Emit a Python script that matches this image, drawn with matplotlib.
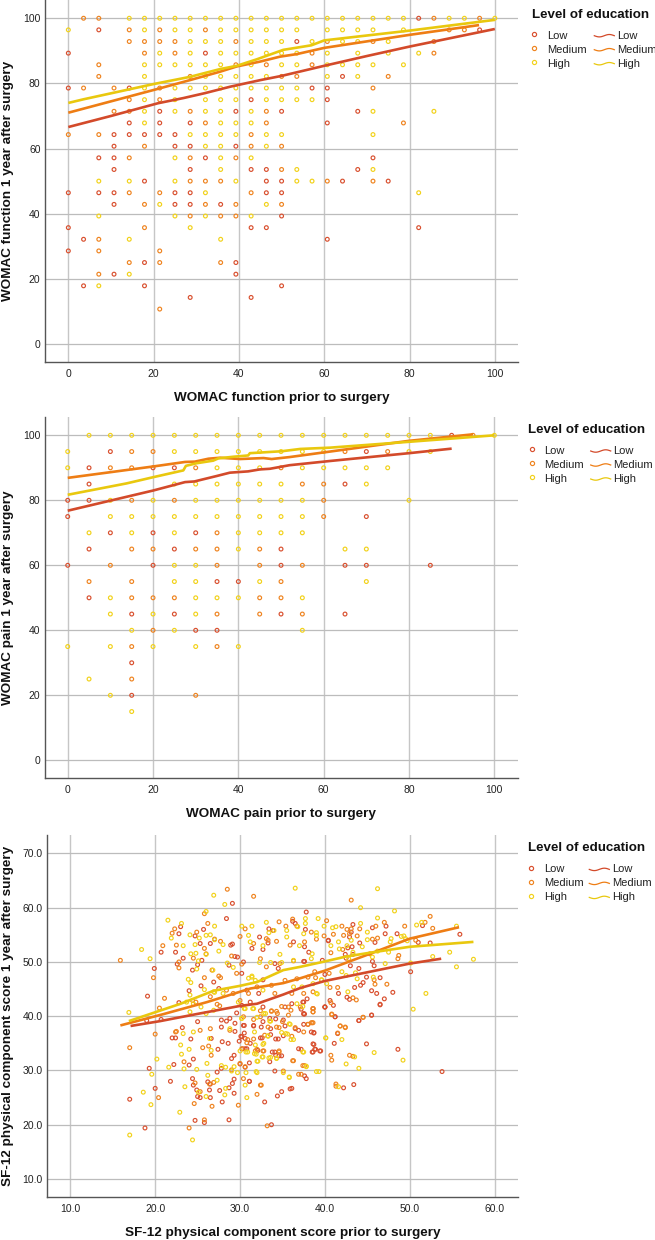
import matplotlib
matplotlib.use("Agg")
import matplotlib.pyplot as plt
from matplotlib.lines import Line2D
import numpy as np

plt.rcParams["font.family"] = ["Liberation Sans", "DejaVu Sans"]

FIG_W = 655
FIG_H = 1240

levels = ["Low", "Medium", "High"]
marker_colors = ["#d9502f", "#ef8420", "#f2d21b"]
line_colors = ["#d34a2a", "#ee7d14", "#e9c80e"]

# WOMAC function is scored in steps of 100/28. Rows are (y step, [x steps]).
func_low = [
    (28, [23]), (27, [2, 27]), (26, [15]), (25, [0, 9]), (23, [18]),
    (22, [0, 4, 16, 17]), (21, [12, 17]), (20, [6, 11, 14, 19]),
    (19, [4, 6, 8, 17]), (18, [3, 4, 5, 6, 7]), (17, [3, 7, 8, 11]),
    (16, [2, 3, 9, 20]), (15, [3, 8, 12, 13, 19]), (14, [5, 13, 14, 18, 21]),
    (13, [0, 2, 3, 7, 8, 13, 14]), (12, [3, 7, 8, 10]), (11, [14]),
    (10, [0, 12, 13, 23]), (9, [1, 17]), (8, [0]), (7, [5, 11]), (6, [3, 11]),
    (5, [1, 5, 14]), (4, [8, 12]),
]
func_medium = [
    (28, [1, 2, 24, 27]), (27, [4, 6, 9, 25, 26]), (26, [4, 5, 6, 7, 11, 17, 20, 24]),
    (25, [5, 7, 16, 24]), (24, [2, 11, 13, 16]), (23, [2, 8, 14, 15, 21]),
    (22, [1, 3, 6, 20]), (21, [4, 6]), (20, [3, 4, 8, 13]), (19, [9, 13, 22]),
    (18, [0, 2, 12]), (17, [5, 12, 14]), (16, [4, 8, 11]), (15, [14]),
    (14, [8, 9, 10, 17, 20]), (13, [4, 6, 12]), (12, [5, 9, 11, 14]), (11, [8, 10, 11]),
    (10, [5]), (9, [2]), (8, [2, 6]), (7, [4, 6, 10]), (6, [2]), (3, [6]),
]
func_high = [
    (28, [4, 5, 6, 7, 8, 9, 10, 11, 12, 13, 14, 15, 16, 17, 18, 19, 20, 21, 22, 25, 26, 28]),
    (27, [0, 5, 7, 8, 10, 11, 12, 13, 14, 15, 17, 18, 19, 20, 22]),
    (26, [8, 9, 10, 12, 13, 14, 16, 18, 19, 21]),
    (25, [6, 8, 10, 11, 12, 13, 14, 15, 17, 19, 21, 23]),
    (24, [5, 6, 7, 8, 9, 10, 12, 14, 15, 17, 18, 19, 20, 22]),
    (23, [5, 9, 10, 11, 12, 13, 17, 19]),
    (22, [5, 7, 8, 9, 10, 11, 12, 13, 14, 15]),
    (21, [5, 7, 9, 10, 11, 13, 14, 15, 16]),
    (20, [5, 7, 9, 10, 12, 20, 24]), (19, [5, 10, 11, 12]),
    (18, [8, 9, 10, 11, 13, 14, 20]), (17, [9, 10, 13]), (16, [7, 10, 12]),
    (15, [10, 15, 20]), (14, [2, 4, 7, 11, 15, 16]), (13, [9, 23]), (12, [6, 13]),
    (11, [2, 7, 9, 12]), (10, [8]), (9, [4, 10]), (6, [4]), (5, [2]),
]

# WOMAC pain is scored in steps of 5. Rows are (y score, [x steps]).
pain_low = [
    (100, [18]), (95, [2, 14]), (90, [1, 4, 5]), (85, [1, 13]), (80, [0, 1]),
    (75, [0, 14]), (70, [2, 4, 6]), (65, [1, 5, 10]), (60, [0, 4, 10, 13, 14, 17]),
    (55, [7, 8]), (50, [1]), (45, [3, 5, 10, 13]), (40, [6, 7]), (30, [3]), (20, [3]),
]
pain_medium = [
    (100, [19]), (95, [3, 4, 13, 15]), (90, [2, 3, 6, 10]), (85, [11, 12]),
    (80, [3, 5, 12]), (75, [12]), (70, [7]), (65, [3, 4, 6, 7, 9]), (60, [2, 7, 9, 11]),
    (55, [1, 3, 10]), (50, [3, 4, 5, 9, 10]), (45, [7, 9, 11]), (40, [4]), (35, [3, 7]),
    (25, [3]), (20, [6]),
]
pain_high = [
    (100, [1, 2, 3, 4, 5, 6, 7, 8, 9, 10, 11, 12, 13, 14, 15, 16, 17, 20]),
    (95, [0, 5, 6, 7, 8, 9, 10, 11, 12, 16, 17]),
    (90, [0, 7, 8, 9, 11, 12, 13, 14, 15]), (85, [5, 6, 7, 8, 9, 10, 14]),
    (80, [2, 4, 6, 7, 8, 9, 10, 11, 16]), (75, [2, 3, 4, 5, 6, 7, 8, 9, 10, 11]),
    (70, [1, 3, 5, 8, 9, 10, 11]), (65, [8, 13, 14]), (60, [5, 6]), (55, [5, 6, 9, 14]),
    (50, [2, 6, 7, 8, 11]), (45, [2, 4, 6]), (40, [3, 5, 11]), (35, [0, 2, 4, 6, 8]),
    (25, [1]), (20, [2]), (15, [3]),
]

sf_low = [
    (19.9, 48.8), (19.1, 43.7), (20.7, 51.8), (22.4, 51.8), (22.8, 55.2), (23.0, 56.5), (22.6, 49.6),
    (23.3, 50.7), (22.8, 42.5), (20.7, 39.4), (19.0, 39.2), (23.2, 37.9), (29.1, 60.8), (28.4, 58.0),
    (25.7, 56.0), (24.7, 54.8), (25.3, 53.4), (26.5, 53.4), (27.0, 54.2), (25.5, 50.3), (25.0, 49.5),
    (24.0, 44.7), (25.4, 45.6), (26.9, 46.3), (24.4, 48.5), (27.5, 45.1), (28.9, 53.1), (29.1, 53.3),
    (29.4, 51.0), (29.7, 50.9), (28.7, 49.4), (30.4, 50.0), (30.2, 47.9), (31.4, 52.5), (32.7, 52.3),
    (33.4, 56.1), (33.9, 55.8), (32.3, 54.6), (33.3, 53.5), (36.3, 53.7), (36.2, 57.5), (36.5, 57.1),
    (37.7, 56.0), (40.4, 54.0), (37.6, 50.1), (34.1, 49.7), (34.5, 48.8), (32.7, 46.7), (32.2, 44.2),
    (30.8, 44.8), (30.2, 42.0), (29.6, 40.6), (32.7, 41.7), (36.1, 42.3), (37.4, 42.6), (37.6, 40.4),
    (38.6, 41.4), (40.0, 41.7), (35.3, 41.7), (31.2, 42.6), (25.0, 39.0), (27.8, 39.3), (28.4, 39.1),
    (28.8, 39.6), (29.4, 38.7), (30.4, 38.3), (31.6, 38.3), (35.1, 39.3), (33.5, 39.6), (32.5, 38.0),
    (27.8, 38.0), (29.4, 37.2), (38.4, 37.1),
    (37.8, 59.2), (47.2, 56.6), (47.1, 55.2), (48.5, 55.2), (51.5, 56.7), (55.9, 55.1), (51.0, 53.6),
    (52.4, 53.5), (45.6, 56.3), (43.3, 56.9), (43.1, 55.5), (42.9, 54.6), (40.4, 53.9), (42.7, 52.6),
    (43.2, 52.8), (44.1, 53.5), (45.9, 53.6), (43.3, 51.4), (42.4, 51.4), (42.5, 50.7), (37.6, 52.8),
    (38.1, 51.8), (37.5, 50.1), (39.7, 50.3), (43.0, 49.3), (45.6, 50.1), (45.8, 49.3), (50.1, 48.2),
    (44.0, 48.8), (40.0, 47.7), (44.9, 47.2), (46.5, 47.1), (44.5, 46.2), (44.2, 45.7), (43.5, 45.3),
    (41.6, 44.2), (45.5, 44.7), (46.1, 44.2), (48.0, 44.4), (42.6, 43.5), (42.9, 43.1), (47.0, 43.2),
    (40.6, 42.9), (46.5, 42.2), (40.0, 41.7), (37.5, 40.5), (41.2, 39.9), (45.5, 40.2), (44.0, 39.2),
    (38.7, 37.0), (37.5, 38.5), (37.5, 42.6), (37.9, 43.2),
    (17.0, 24.7), (18.8, 19.4), (19.3, 30.4), (20.0, 26.7), (21.8, 28.0), (22.2, 31.1), (22.0, 36.0),
    (22.4, 36.0), (24.2, 35.8), (24.0, 31.0), (24.5, 32.1), (24.4, 28.5), (24.5, 27.3), (24.9, 26.4),
    (25.0, 25.2), (25.3, 25.0), (24.7, 20.8), (25.8, 20.4), (26.4, 26.4), (26.5, 25.0), (27.9, 24.2),
    (27.6, 26.3), (28.7, 20.9), (28.7, 26.8), (29.3, 25.8), (29.1, 27.6), (29.3, 28.4), (32.9, 24.2),
    (33.7, 20.0), (34.4, 25.3), (34.9, 26.1), (35.9, 26.6), (36.1, 26.7), (34.1, 29.9), (33.5, 31.6),
    (31.1, 31.4), (30.0, 31.2), (30.6, 30.6), (29.0, 32.2), (29.3, 32.8), (27.3, 29.7), (27.8, 30.4),
    (26.2, 27.9), (26.5, 27.5), (27.4, 33.9), (26.6, 35.9), (27.9, 35.3), (28.6, 35.0), (29.9, 35.4),
    (30.6, 34.0), (30.8, 34.0), (31.2, 35.0), (32.1, 33.7), (31.1, 28.0), (34.1, 33.4), (34.2, 32.8),
    (34.9, 32.7), (34.5, 35.8), (32.6, 36.0), (30.2, 36.2), (38.7, 34.8), (38.6, 33.4), (38.9, 33.9),
    (39.5, 33.6), (37.2, 33.9), (37.6, 29.0), (37.8, 28.5), (30.6, 35.9),
    (53.8, 29.8), (48.6, 33.9), (44.9, 34.9), (45.5, 40.2), (46.5, 42.1), (44.0, 39.2), (43.4, 27.4),
    (42.2, 26.8), (41.1, 35.0), (41.5, 36.8), (41.2, 39.9), (40.0, 41.7), (41.0, 42.0), (38.7, 36.9),
    (38.6, 34.9), (38.8, 33.9), (39.4, 33.6), (38.5, 33.4), (36.9, 34.0), (36.9, 37.4), (36.5, 37.7),
    (38.0, 38.5), (37.5, 40.4), (37.2, 41.3), (35.3, 38.2), (35.1, 36.4), (34.2, 35.8), (34.2, 39.5),
    (33.6, 37.7), (33.6, 36.6), (32.4, 36.0), (32.7, 39.0), (31.6, 38.2), (30.5, 38.3), (30.5, 36.9),
    (30.1, 36.3), (30.3, 34.0), (33.8, 33.4), (34.6, 32.7), (31.1, 28.0),
]
sf_medium = [
    (15.9, 50.3), (19.8, 47.1), (21.1, 43.3), (20.5, 41.5), (20.9, 53.0), (22.3, 56.1), (22.0, 55.3),
    (22.5, 53.1), (31.6, 62.1), (28.5, 63.4), (25.8, 58.9), (26.2, 57.1), (24.9, 55.5), (25.8, 52.5),
    (26.0, 51.5), (24.5, 50.7), (22.8, 50.0), (22.8, 48.9), (25.8, 47.1), (26.7, 48.5), (27.5, 47.4),
    (27.7, 47.1), (24.4, 42.9), (26.5, 43.6), (24.8, 42.6), (27.3, 42.2), (27.6, 41.9), (28.4, 44.8),
    (29.6, 47.9), (30.2, 49.6), (29.0, 51.1), (27.7, 53.8), (30.6, 56.1), (30.0, 54.7), (33.1, 54.3),
    (34.6, 57.4), (35.4, 56.6), (36.2, 57.9), (36.7, 56.6), (38.4, 55.5), (39.0, 54.2), (37.6, 53.7),
    (35.9, 53.1), (34.3, 53.8), (33.3, 54.0), (31.6, 53.4), (32.4, 50.6), (34.7, 49.7), (36.3, 50.2),
    (33.1, 49.1), (36.7, 46.9), (38.0, 47.2), (35.3, 46.6), (33.7, 45.7), (32.0, 45.4), (31.0, 44.2),
    (29.2, 44.2), (30.0, 42.9), (34.1, 44.2), (36.1, 44.2), (37.1, 41.7), (34.3, 40.9), (33.7, 40.9),
    (32.4, 39.9), (30.4, 39.9), (20.0, 36.7), (22.4, 37.1), (22.5, 37.2), (25.3, 37.4), (26.5, 37.7),
    (28.8, 37.4), (33.3, 38.0), (34.3, 38.0), (36.5, 37.9), (38.0, 38.5), (38.6, 38.8),
    (43.1, 61.4), (51.8, 57.3), (52.4, 58.4), (52.7, 56.2), (49.4, 56.6), (47.0, 57.3), (46.0, 56.6),
    (46.2, 54.4), (40.2, 57.6), (42.0, 56.6), (42.6, 56.0), (43.1, 56.1), (44.1, 56.1), (39.9, 54.8),
    (42.2, 54.9), (42.9, 55.2), (43.8, 54.8), (45.6, 54.2), (41.0, 55.1), (48.7, 51.2), (48.6, 50.6),
    (50.7, 54.0), (42.1, 52.3), (40.7, 51.7), (45.3, 51.5), (38.8, 48.2), (40.5, 47.9), (38.9, 47.1),
    (45.8, 46.7), (45.9, 45.9), (47.3, 45.9), (40.6, 45.3), (41.5, 45.3), (43.7, 43.0), (43.3, 43.4),
    (37.5, 44.2), (38.6, 44.5), (40.7, 42.5), (38.6, 41.4), (38.6, 40.8), (40.8, 40.4), (44.5, 39.8),
    (41.8, 38.2), (42.4, 38.0), (41.5, 36.9), (38.4, 38.8),
    (17.0, 34.2), (20.4, 25.0), (23.4, 31.6), (24.7, 27.7), (25.3, 26.1), (24.6, 23.9), (24.0, 19.4),
    (26.7, 23.4), (26.4, 27.5), (26.9, 27.8), (25.8, 20.9), (25.6, 34.2), (26.3, 34.5), (26.6, 32.8),
    (29.8, 23.6), (30.4, 28.5), (32.0, 25.6), (32.5, 27.3), (33.2, 19.8), (32.7, 33.6), (32.0, 33.9),
    (34.6, 33.4), (35.1, 29.9), (36.3, 31.8), (37.2, 29.3), (37.6, 30.9), (29.0, 30.1), (30.2, 34.0),
    (41.3, 27.5), (41.3, 27.1), (42.9, 32.8), (43.3, 32.6), (40.8, 31.9), (40.7, 32.8), (41.8, 38.2),
    (42.4, 37.9), (40.8, 40.3), (44.5, 39.8), (38.5, 38.8), (37.5, 37.1), (36.2, 31.8), (37.4, 30.9),
    (36.9, 29.3), (32.4, 27.3), (34.6, 33.6), (38.6, 40.8), (38.6, 41.4), (35.7, 40.2), (34.9, 41.8),
    (35.7, 41.7), (36.0, 41.1), (34.4, 40.5), (33.7, 41.0), (32.4, 41.0), (31.6, 39.4), (34.6, 37.9),
    (35.0, 39.0), (32.9, 36.5), (31.6, 35.8), (30.9, 35.7), (30.8, 35.1), (32.8, 33.6), (31.8, 33.6),
    (30.6, 30.7), (30.0, 31.3), (36.1, 36.3),
]
sf_high = [
    (18.4, 52.3), (19.4, 50.6), (16.9, 40.7), (21.5, 57.7), (23.1, 57.1), (21.9, 54.4), (26.9, 62.3),
    (26.0, 59.3), (28.2, 60.6), (36.5, 63.6), (37.7, 57.1), (23.3, 53.0), (24.1, 55.0), (24.7, 53.2),
    (24.8, 51.6), (24.2, 51.5), (25.2, 54.4), (26.0, 54.9), (26.5, 55.0), (27.0, 56.6), (27.0, 54.1),
    (26.0, 51.4), (25.1, 50.2), (24.9, 48.7), (23.9, 46.8), (24.2, 46.2), (25.8, 44.9), (27.0, 44.4),
    (26.8, 48.5), (27.5, 52.0), (28.0, 53.2), (28.5, 49.8), (29.2, 49.0), (30.2, 56.6), (31.0, 54.9),
    (31.2, 53.7), (31.4, 56.6), (32.7, 53.0), (33.1, 57.3), (33.4, 55.4), (34.0, 55.8), (35.5, 55.8),
    (35.5, 54.6), (36.8, 56.5), (37.5, 55.2), (37.0, 53.0), (36.3, 50.3), (34.9, 49.9), (33.6, 49.9),
    (32.3, 49.9), (31.4, 47.4), (31.0, 47.0), (34.7, 51.4),
    (24.1, 43.9), (23.7, 42.6), (24.5, 42.3), (24.1, 40.8), (25.4, 41.7), (26.0, 40.5), (26.9, 41.1),
    (26.9, 44.5), (28.0, 44.2), (29.8, 42.6), (30.2, 39.6), (30.6, 41.4), (31.6, 41.4), (32.7, 44.8),
    (31.8, 46.6), (31.4, 47.2), (32.8, 40.5), (33.5, 39.1), (35.8, 38.6), (36.7, 42.3), (39.0, 44.2),
    (38.6, 46.0), (39.6, 46.7), (23.3, 36.8), (24.5, 37.1), (28.8, 37.7), (35.4, 36.8), (37.3, 45.4),
    (36.3, 45.4),
    (46.2, 63.5), (44.2, 60.0), (48.2, 59.4), (46.2, 58.1), (39.2, 58.0), (37.7, 58.0), (44.2, 57.1),
    (50.8, 56.8), (51.4, 57.3), (55.5, 56.6), (39.9, 56.6), (40.9, 56.3), (41.3, 56.5), (45.0, 55.5),
    (39.0, 55.4), (39.0, 54.9), (45.0, 54.1), (43.1, 54.0), (41.6, 53.7), (40.7, 53.0), (47.8, 54.3),
    (47.7, 53.7), (49.0, 54.7), (49.3, 54.8), (49.5, 54.3), (49.7, 53.9), (42.6, 53.0), (44.4, 52.8),
    (41.7, 52.4), (43.3, 51.8), (46.2, 52.0), (47.5, 51.8), (38.5, 51.5), (38.4, 50.6), (42.8, 50.6),
    (45.6, 50.9), (52.7, 51.0), (54.7, 51.8), (57.5, 50.5), (55.5, 49.1), (47.1, 49.7), (50.1, 49.8),
    (42.0, 48.2), (42.5, 47.5), (43.6, 48.0), (45.7, 47.2), (43.8, 46.9), (39.6, 46.7), (39.1, 44.1),
    (51.9, 44.2), (42.7, 44.5), (50.4, 41.3), (40.2, 46.0),
    (17.0, 18.1), (18.6, 26.0), (19.5, 23.7), (19.6, 29.3), (20.2, 32.1), (21.6, 30.6), (22.9, 22.3),
    (23.5, 27.0), (23.4, 30.3), (23.1, 33.0), (23.0, 34.7), (24.0, 33.9), (24.9, 30.2), (24.4, 17.2),
    (25.1, 26.0), (26.0, 25.2), (26.2, 29.1), (26.1, 31.3), (27.3, 28.2), (28.2, 25.5), (28.3, 26.7),
    (27.8, 30.9), (28.3, 30.6), (29.0, 29.9), (29.3, 30.7), (29.7, 29.6), (30.7, 29.6), (30.6, 27.3),
    (30.8, 25.0), (32.0, 29.6), (32.1, 31.7), (32.7, 32.5), (31.9, 33.0), (30.9, 33.4), (30.0, 33.6),
    (26.6, 33.7), (26.4, 35.9), (33.4, 32.3), (34.3, 32.2), (35.1, 29.6), (35.8, 28.7), (37.8, 30.8),
    (37.4, 33.4), (39.3, 29.8), (40.1, 36.0), (36.3, 35.7), (31.8, 34.7), (32.7, 34.8), (33.3, 36.3),
    (45.8, 33.3), (49.2, 31.9), (44.0, 30.4), (43.5, 32.5), (42.5, 31.2), (42.0, 35.7), (40.1, 36.0),
    (41.6, 27.0), (39.0, 29.8), (37.8, 30.7), (37.5, 33.4), (35.8, 28.8), (34.3, 32.3), (33.6, 32.4),
    (32.6, 32.5), (32.0, 31.7), (31.9, 29.8), (30.7, 33.4), (31.7, 33.1), (32.8, 35.0), (36.0, 35.7),
    (35.6, 36.7), (34.9, 37.0), (33.3, 36.4), (31.7, 37.1), (32.0, 39.8), (33.6, 39.1), (35.9, 38.5),
    (33.0, 40.5), (31.5, 41.4), (30.5, 41.4), (30.2, 39.6), (37.4, 41.8),
]

# fit lines
func_fit_low_x = [0, 10, 21, 27, 32, 38, 45, 50, 60, 70, 80, 90, 100]
func_fit_low_y = [66.6, 70, 73.9, 75.5, 77, 79, 81, 82.3, 85.4, 88.4, 91.3, 94, 96.7]
func_fit_medium_x = [0, 21.5, 28.5, 35.6, 39.5, 45, 49.6, 53.6, 60, 80, 96.3]
func_fit_medium_y = [71, 78.5, 81, 83.6, 85.2, 86.7, 88.2, 89, 90.9, 94.9, 97.9]
func_fit_high_x = [0, 3.5, 20, 28.5, 35.6, 39.5, 44.2, 50.4, 52.8, 57, 60, 80, 100]
func_fit_high_y = [74, 75.1, 79.8, 82, 84.4, 85.4, 87.4, 90.3, 90.8, 91.7, 93.2, 96.2, 99.5]

pain_fit_low_x = [0, 20, 27.5, 29.7, 35, 38, 42.3, 45, 47.4, 52, 61.5, 80, 90]
pain_fit_low_y = [76.8, 83, 85.6, 85.8, 87.5, 88.5, 88.9, 89.5, 89.7, 90.8, 92.1, 94.5, 95.9]
pain_fit_medium_x = [0, 20, 27.5, 29.8, 33, 35.7, 40.4, 45.9, 47.8, 52, 61.5, 80, 95]
pain_fit_medium_y = [86.9, 90.4, 91.8, 91.9, 92.8, 93.1, 92.7, 93, 92.7, 93.3, 95, 98.3, 100.3]
pain_fit_high_x = [0, 13.8, 20, 27.1, 27.7, 30.2, 34.1, 35.3, 38.8, 42.3, 42.7, 50.2, 54.5, 61.5, 80, 100]
pain_fit_high_y = [81.7, 85.2, 87.1, 89.2, 90.6, 91.4, 92.2, 92.9, 93.4, 93.8, 94.5, 95.1, 95.8, 96.2, 98, 100]

sf_fit_low_x = [17.1, 20.6, 24.9, 30, 32, 35.1, 37.1, 40, 50, 53.7]
sf_fit_low_y = [38.2, 39.1, 40.4, 41.9, 42.3, 44, 45.2, 46.5, 49.7, 50.6]
sf_fit_medium_x = [15.9, 21, 26.1, 31.2, 35.1, 37.1, 40, 45.3, 50, 55.8]
sf_fit_medium_y = [38.3, 40.4, 42.6, 45.1, 46.1, 47, 48.4, 51.5, 54.3, 56.4]
sf_fit_high_x = [16.9, 23, 26.9, 30, 32, 35.1, 37.1, 40, 42.5, 45.3, 50, 57.5]
sf_fit_high_y = [39.1, 42.3, 44.7, 45.6, 46.3, 48.5, 49.1, 50.1, 51, 51.7, 52.8, 53.7]

x_ticks_womac = [0, 20, 40, 60, 80, 100]
y_ticks_womac = [0, 20, 40, 60, 80, 100]
x_ticks_sf = [10, 20, 30, 40, 50, 60]
y_ticks_sf = [10, 20, 30, 40, 50, 60, 70]


def expand_rows(rows, x_step, y_step):
    xs = []
    ys = []
    for y, x_list in rows:
        for x in x_list:
            xs.append(x * x_step)
            ys.append(y * y_step)
    return xs, ys


def make_axes(fig, left, top, right, bottom):
    ax = fig.add_axes([left / FIG_W, 1 - bottom / FIG_H, (right - left) / FIG_W, (bottom - top) / FIG_H])
    ax.spines["top"].set_visible(False)
    ax.spines["right"].set_visible(False)
    ax.spines["left"].set_color("#555555")
    ax.spines["bottom"].set_color("#555555")
    ax.spines["left"].set_linewidth(1.0)
    ax.spines["bottom"].set_linewidth(1.0)
    ax.tick_params(length=0, labelsize=7.5, labelcolor="#222222")
    ax.tick_params(axis="x", pad=5)
    ax.tick_params(axis="y", pad=3)
    ax.set_axisbelow(True)
    ax.grid(axis="x", color="#c6c6c6", linewidth=1.0)
    ax.grid(axis="y", color="#bcbcbc", linewidth=0.9)
    return ax


def draw_panel(ax, points, fits):
    for i in range(3):
        xs, ys = points[i]
        ax.scatter(xs, ys, s=7.5, facecolors="none", edgecolors=marker_colors[i], linewidths=0.85, zorder=3)
    for i in range(3):
        fit_x, fit_y = fits[i]
        ax.plot(fit_x, fit_y, color=line_colors[i], linewidth=1.9, zorder=4, solid_capstyle="butt")


def draw_legend(fig, title_x, title_y, marker_x, marker_y, text_x, line_x, line_text_x):
    to_fig_x = lambda px: px / FIG_W
    to_fig_y = lambda py: 1 - py / FIG_H
    fig.text(to_fig_x(title_x), to_fig_y(title_y), "Level of education", fontsize=9.6, fontweight="bold",
             color="#111111", va="center", ha="left")
    for i, name in enumerate(levels):
        row_y = marker_y + i * 14
        fig.add_artist(Line2D([to_fig_x(marker_x)], [to_fig_y(row_y)], marker="o", markersize=3,
                              markerfacecolor="none", markeredgecolor=marker_colors[i],
                              markeredgewidth=0.85, linestyle="none", transform=fig.transFigure))
        fig.text(to_fig_x(text_x), to_fig_y(row_y + 1.7), name, fontsize=8, color="#222222", va="center", ha="left")
        # small s-shaped legend key, like the SPSS fit line key
        wave_x = np.linspace(line_x, line_x + 20, 21)
        wave_y = row_y + 1.7 + 1.2 * np.sin((wave_x - line_x) / 20 * 2 * np.pi)
        fig.add_artist(Line2D(to_fig_x(wave_x), to_fig_y(wave_y), color=line_colors[i], linewidth=0.9,
                              transform=fig.transFigure))
        fig.text(to_fig_x(line_text_x), to_fig_y(row_y + 1.7), name, fontsize=8, color="#222222", va="center", ha="left")


def main():
    fig = plt.figure(figsize=(FIG_W / 100, FIG_H / 100), dpi=100)

    # WOMAC function
    ax1 = make_axes(fig, 44.7, 0, 518.3, 362)
    step = 100 / 28
    points = [expand_rows(rows, step, step) for rows in (func_low, func_medium, func_high)]
    fits = [(func_fit_low_x, func_fit_low_y), (func_fit_medium_x, func_fit_medium_y), (func_fit_high_x, func_fit_high_y)]
    draw_panel(ax1, points, fits)
    ax1.set_xlim(-5.54, 105.5)
    ax1.set_ylim(-5.53, 105.6)
    ax1.set_xticks(x_ticks_womac)
    ax1.set_yticks(y_ticks_womac)

    # WOMAC pain
    ax2 = make_axes(fig, 44.5, 417.3, 518, 778.3)
    points = [expand_rows(rows, 5, 1) for rows in (pain_low, pain_medium, pain_high)]
    fits = [(pain_fit_low_x, pain_fit_low_y), (pain_fit_medium_x, pain_fit_medium_y), (pain_fit_high_x, pain_fit_high_y)]
    draw_panel(ax2, points, fits)
    ax2.set_xlim(-5.44, 105.55)
    ax2.set_ylim(-5.54, 105.54)
    ax2.set_xticks(x_ticks_womac)
    ax2.set_yticks(y_ticks_womac)

    # SF-12
    ax3 = make_axes(fig, 46.7, 835, 518, 1197)
    points = [list(zip(*pts)) for pts in (sf_low, sf_medium, sf_high)]
    fits = [(sf_fit_low_x, sf_fit_low_y), (sf_fit_medium_x, sf_fit_medium_y), (sf_fit_high_x, sf_fit_high_y)]
    draw_panel(ax3, points, fits)
    ax3.set_xlim(7.22, 62.75)
    ax3.set_ylim(6.68, 73.4)
    ax3.set_xticks(x_ticks_sf)
    ax3.set_yticks(y_ticks_sf)
    ax3.set_xticklabels([f"{t:.1f}" for t in x_ticks_sf])
    ax3.set_yticklabels([f"{t:.1f}" for t in y_ticks_sf])

    labels = [
        (ax1, "WOMAC function prior to surgery", "WOMAC function 1 year after surgery", 397.5, 8),
        (ax2, "WOMAC pain prior to surgery", "WOMAC pain 1 year after surgery", 814.5, 8),
        (ax3, "SF-12 physical component score prior to surgery", "SF-12 physical component score 1 year after surgery", 1233, 8),
    ]
    for ax, x_label, y_label, label_y, label_x in labels:
        box = ax.get_position()
        fig.text(box.x0 / 2 + box.x1 / 2, 1 - label_y / FIG_H, x_label, fontsize=9.7, fontweight="bold",
                 color="#111111", ha="center", va="center")
        fig.text(label_x / FIG_W, box.y0 / 2 + box.y1 / 2, y_label, fontsize=9.7, fontweight="bold",
                 color="#111111", ha="center", va="center", rotation=90)

    draw_legend(fig, 531.7, 15.3, 534, 34, 546.7, 594.3, 617)
    draw_legend(fig, 528.3, 430, 531.7, 449.3, 544.3, 590.7, 613)
    draw_legend(fig, 527.7, 848.3, 531.3, 867.7, 544, 589.3, 612)

    fig.savefig("out.png", dpi=100, facecolor="white")
    plt.close(fig)


if __name__ == "__main__":
    main()
